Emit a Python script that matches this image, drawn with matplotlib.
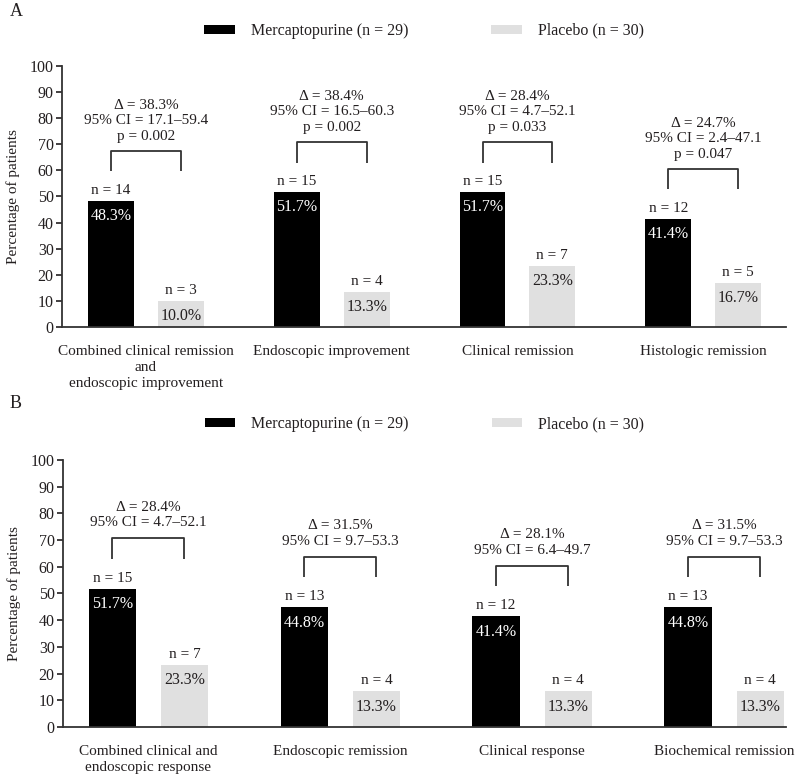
import matplotlib
matplotlib.use("Agg")
import matplotlib.pyplot as plt
from matplotlib.patches import Patch
import numpy as np

plt.rcParams['font.family'] = ['Liberation Serif', 'DejaVu Serif']
plt.rcParams['font.size'] = 11

TXT = '#231f20'
BLACK = '#000000'
GREY = '#e0e0e0'

# Panel A
cats_a = ["Combined clinical remission\nand\nendoscopic improvement",
          "Endoscopic improvement", "Clinical remission", "Histologic remission"]
merc_a = [48.3, 51.7, 51.7, 41.4]
plac_a = [10.0, 13.3, 23.3, 16.7]
merc_n_a = [14, 15, 15, 12]
plac_n_a = [3, 4, 7, 5]
stats_a = ["Δ = 38.3%\n95% CI = 17.1–59.4\np = 0.002",
           "Δ = 38.4%\n95% CI = 16.5–60.3\np = 0.002",
           "Δ = 28.4%\n95% CI = 4.7–52.1\np = 0.033",
           "Δ = 24.7%\n95% CI = 2.4–47.1\np = 0.047"]

# Panel B
cats_b = ["Combined clinical and\nendoscopic response",
          "Endoscopic remission", "Clinical response", "Biochemical remission"]
merc_b = [51.7, 44.8, 41.4, 44.8]
plac_b = [23.3, 13.3, 13.3, 13.3]
merc_n_b = [15, 13, 12, 13]
plac_n_b = [7, 4, 4, 4]
stats_b = ["Δ = 28.4%\n95% CI = 4.7–52.1",
           "Δ = 31.5%\n95% CI = 9.7–53.3",
           "Δ = 28.1%\n95% CI = 6.4–49.7",
           "Δ = 31.5%\n95% CI = 9.7–53.3"]

legend_labels = ["Mercaptopurine (n = 29)", "Placebo (n = 30)"]


def panel(ax, cats, merc, plac, mn, pn, stats, xlim):
    x = np.arange(len(cats))
    w = 0.247
    off = 0.188
    ax.bar(x - off, merc, w, color=BLACK)
    ax.bar(x + off, plac, w, color=GREY)
    for i in range(len(cats)):
        # n labels
        ax.text(x[i] - off, merc[i] + 4, f"n = {mn[i]}", ha='center', va='center', color=TXT)
        ax.text(x[i] + off, plac[i] + 4, f"n = {pn[i]}", ha='center', va='center', color=TXT)
        # percentages
        ax.text(x[i] - off, merc[i] - 5.7, f"{merc[i]:.1f}%", ha='center', va='center',
                color='white', fontsize=11.5)
        ax.text(x[i] + off, plac[i] - 5.7, f"{plac[i]:.1f}%", ha='center', va='center',
                color=TXT, fontsize=11.5)
        # bracket
        top = max(merc[i], plac[i]) + 19
        bot = max(merc[i], plac[i]) + 11.3
        ax.plot([x[i] - off, x[i] - off, x[i] + off, x[i] + off], [bot, top, top, bot],
                color='#333333', lw=1.3, solid_capstyle='butt')
        ax.text(x[i], top + 3.3, stats[i], ha='center', va='bottom', color=TXT,
                linespacing=1.25)
    ax.set_xlim(*xlim)
    ax.set_ylim(0, 100)
    ax.set_yticks(range(0, 101, 10))
    ax.set_xticks(x)
    ax.set_xticklabels(cats, linespacing=1.3)
    ax.tick_params(axis='x', length=0, pad=13, colors=TXT)
    ax.tick_params(axis='y', length=4, width=1.2, pad=2, colors=TXT, labelsize=11.5)
    for s in ['top', 'right']:
        ax.spines[s].set_visible(False)
    for s in ['left', 'bottom']:
        ax.spines[s].set_color('#333333')
        ax.spines[s].set_linewidth(1.3)
    ax.set_ylabel("Percentage of patients", color=TXT)
    ax.yaxis.set_label_coords(-0.058, 0.5)
    handles = [Patch(facecolor=BLACK), Patch(facecolor=GREY)]
    leg = ax.legend(handles, legend_labels, ncol=2, frameon=False, loc='center',
                    bbox_to_anchor=(0.5, 1.135), handlelength=1.9, handleheight=0.5,
                    handletextpad=1.0, columnspacing=5.2, fontsize=11.5)
    for t in leg.get_texts():
        t.set_color(TXT)


fig = plt.figure(figsize=(7.95, 7.78), dpi=100)
ax_a = fig.add_axes([0.078, 0.5797, 0.9107, 0.3355])
ax_b = fig.add_axes([0.0792, 0.0656, 0.909, 0.3432])

panel(ax_a, cats_a, merc_a, plac_a, merc_n_a, plac_n_a, stats_a, (-0.452, 3.446))
panel(ax_b, cats_b, merc_b, plac_b, merc_n_b, plac_n_b, stats_b, (-0.445, 3.32))

fig.text(0.012, 0.985, "A", fontsize=13, va='center', ha='left', color=TXT)
fig.text(0.012, 0.482, "B", fontsize=13, va='center', ha='left', color=TXT)

fig.savefig("out.png", dpi=100)
